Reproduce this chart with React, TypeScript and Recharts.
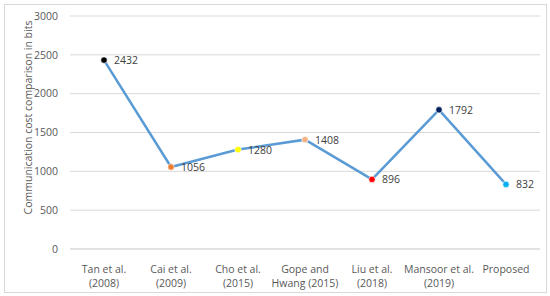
import { LineChart, Line, XAxis, YAxis, CartesianGrid, LabelList } from 'recharts';

const schemes = [
  'Tan et al.|(2008)',
  'Cai et al.|(2009)',
  'Cho et al.|(2015)',
  'Gope and|Hwang (2015)',
  'Liu et al.|(2018)',
  'Mansoor et al.|(2019)',
  'Proposed',
];
const costBits = [2432, 1056, 1280, 1408, 896, 1792, 832];
const dotColors = ['#000000', '#ED7D31', '#FFFF00', '#F4B183', '#FF0000', '#002060', '#00B0F0'];
const yTicks = [0, 500, 1000, 1500, 2000, 2500, 3000];

const data = schemes.map((name, i) => ({ name, cost: costBits[i], color: dotColors[i] }));

const FONT = '"Open Sans", "Liberation Sans", sans-serif';
const TEXT = '#595959';

function CategoryTick({ x, y, payload }: any) {
  const lines = String(payload.value).split('|');
  return (
    <text x={x} y={y} textAnchor="middle" fontSize={10.5} fill={TEXT} fontFamily={FONT}>
      {lines.map((l, i) => (
        <tspan key={i} x={x} dy={i === 0 ? 16 : 14}>
          {l}
        </tspan>
      ))}
    </text>
  );
}

function ColorDot({ cx, cy, payload }: any) {
  if (cx == null || cy == null) return null;
  return <circle cx={cx} cy={cy} r={3.2} fill={payload.color} stroke="#ffffff" strokeWidth={0.6} />;
}

function ValueLabel({ x, y, value }: any) {
  return (
    <text x={x + 10} y={y} dy={4} fontSize={10.5} fill="#404040" fontFamily={FONT}>
      {value}
    </text>
  );
}

export default function App() {
  return (
    <div style={{ position: 'absolute', left: 0, top: 0, width: 550, height: 296, background: '#fff' }}>
      <div
        style={{
          position: 'absolute',
          left: 4,
          top: 4,
          width: 541,
          height: 287,
          border: '1px solid #d9d9d9',
        }}
      >
        <LineChart width={540} height={286} data={data} margin={{ top: 11, right: 5, bottom: 0, left: 0 }}>
          <CartesianGrid vertical={false} stroke="#d9d9d9" />
          <XAxis
            dataKey="name"
            height={42}
            tick={<CategoryTick />}
            tickLine={false}
            axisLine={{ stroke: '#d9d9d9' }}
            interval={0}
            padding={{ left: 34, right: 34 }}
          />
          <YAxis
            width={65}
            domain={[0, 3000]}
            ticks={yTicks}
            tickLine={false}
            axisLine={false}
            tick={{ fontSize: 10.5, fill: TEXT, fontFamily: FONT }}
            tickMargin={6}
            label={{
              value: 'Communication cost comparison in bits',
              angle: -90,
              position: 'insideLeft',
              dx: 18,
              dy: -15,
              style: { textAnchor: 'middle', fontSize: 10.5, fill: TEXT, fontFamily: FONT },
            }}
          />
          <Line
            type="linear"
            dataKey="cost"
            stroke="#5B9BD5"
            strokeWidth={2.5}
            dot={<ColorDot />}
            activeDot={false}
            isAnimationActive={false}
          >
            <LabelList dataKey="cost" content={<ValueLabel />} />
          </Line>
        </LineChart>
      </div>
    </div>
  );
}
